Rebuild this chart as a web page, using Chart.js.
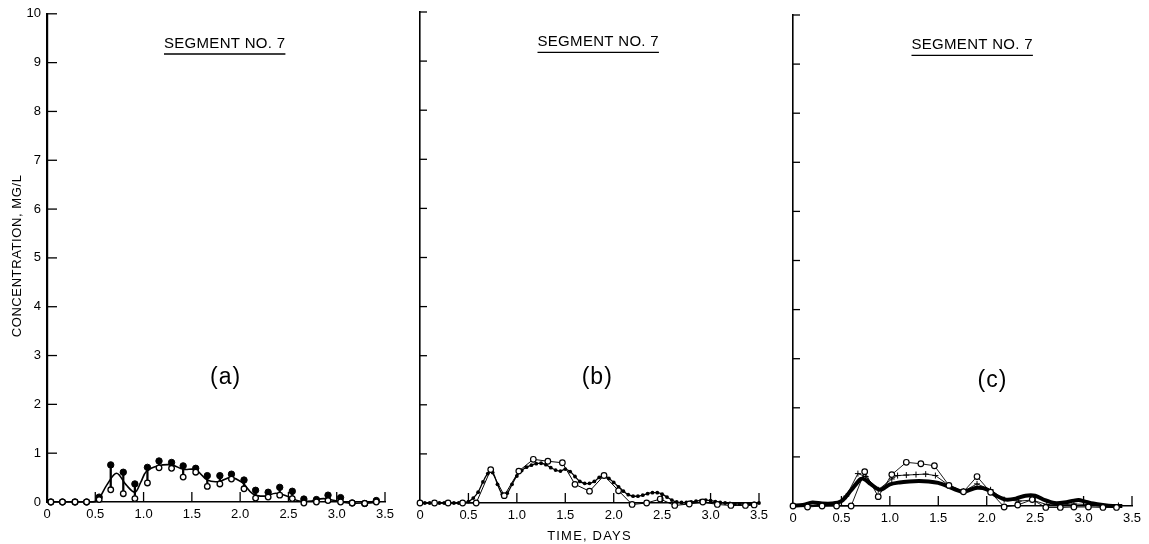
<!DOCTYPE html>
<html><head><meta charset="utf-8">
<script src="https://cdn.jsdelivr.net/npm/chart.js@4.4.0/dist/chart.umd.min.js"></script>
<style>
html,body{margin:0;padding:0;background:#fff;}
#wrap{position:relative;width:1149px;height:544px;overflow:hidden;background:#fff;}
.pc{position:absolute;top:0;height:544px;}
</style></head><body>
<div id="wrap">
<div class="pc" style="left:0;width:400px"><canvas id="ca"></canvas></div>
<div class="pc" style="left:400px;width:375px"><canvas id="cb"></canvas></div>
<div class="pc" style="left:775px;width:374px"><canvas id="cc"></canvas></div>
</div>
<script>
// ---------- data ----------
const xTickLabels = ['0','0.5','1.0','1.5','2.0','2.5','3.0','3.5'];
const yTickLabels = ['0','1','2','3','4','5','6','7','8','9','10'];

// panel (a): observed range (high / low) and model curve
const timesA = [0.04,0.16,0.29,0.41,0.54,0.66,0.79,0.91,1.04,1.16,1.29,1.41,1.54,1.66,1.79,1.91,2.04,2.16,2.29,2.41,2.54,2.66,2.79,2.91,3.04,3.16,3.29,3.41];
const highA  = [0,0,0,0,0.10,0.76,0.61,0.37,0.71,0.84,0.81,0.74,0.69,0.54,0.54,0.57,0.45,0.24,0.20,0.30,0.22,0.06,0.05,0.14,0.09,-0.02,-0.03,0.03];
const lowA   = [0,0,0,0,0.05,0.25,0.17,0.07,0.39,0.70,0.69,0.51,0.61,0.32,0.37,0.47,0.27,0.08,0.10,0.14,0.07,-0.02,0.00,0.03,0.00,-0.02,-0.03,0.00];
const modelTimesA = [0,0.45,0.52,0.62,0.72,0.82,0.91,0.97,1.03,1.15,1.29,1.41,1.54,1.66,1.78,1.9,2.02,2.13,2.25,2.37,2.49,2.61,2.74,2.86,2.98,3.12,3.3,3.45];
const modelA      = [0,0,0.02,0.35,0.59,0.35,0.2,0.4,0.63,0.74,0.76,0.67,0.66,0.45,0.42,0.5,0.4,0.17,0.12,0.18,0.12,0.02,0.02,0.07,0.03,-0.02,-0.02,0];

// panel (b)
const obsTimesB = [0,0.15,0.29,0.44,0.58,0.73,0.87,1.02,1.17,1.32,1.47,1.60,1.75,1.90,2.05,2.19,2.34,2.48,2.63,2.78,2.92,3.07,3.21,3.36,3.45];
const obsB      = [0,0,0,0,0,0.68,0.15,0.65,0.89,0.85,0.82,0.38,0.24,0.56,0.25,-0.03,0,0.08,-0.05,-0.02,0.02,-0.03,-0.05,-0.05,-0.04];
const modelTimesB = [0,0.05,0.1,0.15,0.2,0.25,0.3,0.35,0.4,0.45,
  0.5,0.55,0.6,0.65,0.7,0.75,0.8,0.85,0.9,0.95,
  1.0,1.05,1.1,1.15,1.2,1.25,1.3,1.35,1.4,1.45,
  1.5,1.55,1.6,1.65,1.7,1.75,1.8,1.85,1.9,1.95,
  2.0,2.05,2.1,2.15,2.2,2.25,2.3,2.35,2.4,2.45,
  2.5,2.55,2.6,2.65,2.7,2.75,2.8,2.85,2.9,2.95,
  3.0,3.05,3.1,3.15,3.2,3.25,3.3,3.35,3.4,3.45,3.5];
const modelB = [0,0,0,0,0,0,0,0,0,0.01,
  0.03,0.1,0.22,0.43,0.6,0.62,0.38,0.18,0.2,0.38,
  0.55,0.66,0.73,0.77,0.8,0.81,0.78,0.72,0.67,0.65,
  0.69,0.64,0.54,0.44,0.4,0.4,0.44,0.52,0.56,0.5,
  0.42,0.33,0.24,0.17,0.14,0.14,0.16,0.19,0.21,0.21,
  0.18,0.12,0.06,0.02,0.01,0.01,0.02,0.04,0.05,0.06,
  0.05,0.03,0.01,0,-0.01,-0.02,-0.02,-0.02,-0.02,-0.01,0];

// panel (c)
const obsTimesC = [0,0.15,0.3,0.45,0.6,0.74,0.88,1.02,1.17,1.32,1.46,1.61,1.76,1.9,2.04,2.18,2.32,2.47,2.61,2.76,2.9,3.05,3.2,3.34];
const obsC      = [0,-0.02,0,0,0,0.7,0.19,0.64,0.89,0.86,0.82,0.42,0.29,0.6,0.28,-0.02,0.02,0.13,-0.03,-0.03,-0.02,-0.02,-0.03,-0.03];
const plusTimesC = [0,0.15,0.3,0.45,0.55,0.67,0.75,0.88,1.02,1.08,1.17,1.27,1.37,1.47,1.61,1.76,1.9,2.04,2.18,2.33,2.47,2.62,2.76,2.9,3.05,3.2,3.36];
const plusC      = [0,0,0,0.02,0.2,0.66,0.6,0.33,0.55,0.62,0.63,0.64,0.65,0.62,0.42,0.3,0.45,0.33,0.13,0.1,0.12,0.03,0.02,0.04,0.03,0,0.01];
const modelTimesC = [0,0.1,0.2,0.3,0.4,0.5,0.6,0.7,0.75,0.8,0.9,1.0,1.1,1.2,1.3,1.4,1.5,1.6,1.7,1.76,1.8,1.9,2.0,2.1,2.2,2.3,2.4,2.5,2.6,2.7,2.8,2.9,2.95,3.0,3.1,3.2,3.3,3.4];
const modelC      = [0.01,0.02,0.07,0.05,0.05,0.1,0.32,0.55,0.53,0.45,0.33,0.44,0.48,0.5,0.51,0.5,0.47,0.4,0.32,0.29,0.31,0.37,0.34,0.21,0.13,0.15,0.21,0.21,0.12,0.06,0.07,0.11,0.12,0.1,0.05,0.02,0.0,0.0];

const panelTitle = 'SEGMENT NO. 7';
const panelTags = ['(a)','(b)','(c)'];
const yAxisTitle = 'CONCENTRATION, MG/L';
const xAxisTitle = 'TIME, DAYS';

// ---------- helpers ----------
const pts = (xs, ys) => xs.map((x, i) => ({x, y: ys[i]}));
const FONT = '"Liberation Sans", Arial, Helvetica, sans-serif';

const framePlugin = {
  id: 'frame',
  afterDatasetsDraw(chart, args, o) {
    const {ctx} = chart; const x = chart.scales.x, y = chart.scales.y;
    ctx.save();
    ctx.strokeStyle = '#000'; ctx.lineWidth = 1.3;
    x.ticks.forEach(t => {
      if (t.value === 0) return;
      const px = x.getPixelForValue(t.value);
      ctx.beginPath(); ctx.moveTo(px, y.bottom); ctx.lineTo(px, y.bottom - 10); ctx.stroke();
    });
    y.ticks.forEach(t => {
      if (t.value === 0) return;
      const py = y.getPixelForValue(t.value);
      ctx.beginPath(); ctx.moveTo(x.left, py); ctx.lineTo(x.left + o.yTick, py); ctx.stroke();
    });
    ctx.fillStyle = '#000';
    // panel title with underline
    ctx.font = '15px ' + FONT; ctx.letterSpacing = '0.3px';
    ctx.textAlign = 'center'; ctx.textBaseline = 'alphabetic';
    const tx = x.getPixelForValue(o.titleX), ty = y.getPixelForValue(o.titleY);
    ctx.fillText(panelTitle, tx, ty);
    const w = ctx.measureText(panelTitle).width;
    ctx.lineWidth = 1.4;
    ctx.beginPath(); ctx.moveTo(tx - w / 2, ty + 6); ctx.lineTo(tx + w / 2, ty + 6); ctx.stroke();
    // tag
    ctx.letterSpacing = '1px';
    ctx.font = '23px ' + FONT; ctx.textBaseline = 'middle';
    ctx.fillText(o.tag, x.getPixelForValue(o.tagX), y.getPixelForValue(o.tagY));
    // axis titles
    ctx.font = '13px ' + FONT; ctx.letterSpacing = '0.6px';
    if (o.yTitle) {
      ctx.save();
      ctx.translate(17, (y.top + y.bottom) / 2 - 2);
      ctx.rotate(-Math.PI / 2);
      ctx.fillText(yAxisTitle, 0, 0);
      ctx.restore();
    }
    if (o.xTitle) {
      ctx.font = '13px ' + FONT; ctx.letterSpacing = '1.2px';
      ctx.fillText(xAxisTitle, (x.left + x.right) / 2, y.bottom + 33);
    }
    ctx.restore();
  }
};

function makeChart(id, datasets, cfg) {
  return new Chart(document.getElementById(id), {
    type: 'line',
    data: {datasets},
    options: {
      responsive: true, maintainAspectRatio: false, animation: false,
      layout: {padding: {top: cfg.top, right: cfg.right, left: 0, bottom: 0}},
      plugins: {legend: {display: false}, tooltip: {enabled: false}, frame: cfg.frame},
      scales: {
        x: {
          type: 'linear', min: 0, max: 3.5, offset: false,
          grid: {display: true, drawOnChartArea: false, drawTicks: false, offset: false},
          border: {display: true, color: '#000', width: 1.5},
          ticks: {stepSize: 0.5, color: '#000', padding: 5, font: {size: 13, family: FONT},
                  maxRotation: 0, autoSkip: false,
                  callback: (v, i) => xTickLabels[i]},
          afterFit: s => { s.height = cfg.xh; }
        },
        y: {
          type: 'linear', min: 0, max: 10,
          grid: {display: true, drawOnChartArea: false, drawTicks: false},
          border: {display: true, color: '#000', width: cfg.yBorder},
          ticks: {stepSize: 1, color: '#000', padding: 6, display: cfg.yLabels,
                  font: {size: 13, family: FONT},
                  callback: (v, i) => yTickLabels[i]},
          afterFit: s => { s.width = cfg.yw; }
        }
      }
    },
    plugins: [framePlugin]
  });
}

// (a)
makeChart('ca', [
  {type: 'bar', data: timesA.map((t, i) => ({x: t, y: [lowA[i], highA[i]]})),
   backgroundColor: '#000', barThickness: 1.6, grouped: false, clip: false, order: 3},
  {data: pts(modelTimesA, modelA), borderColor: '#000', borderWidth: 1.6, pointRadius: 0,
   tension: 0.35, clip: false, order: 2},
  {data: pts(timesA, highA), showLine: false, pointRadius: 3.2, pointBackgroundColor: '#000',
   pointBorderColor: '#000', pointBorderWidth: 1, clip: false, order: 1},
  {data: pts(timesA, lowA), showLine: false, pointRadius: 2.8, pointBackgroundColor: '#fff',
   pointBorderColor: '#000', pointBorderWidth: 1.3, clip: false, order: 0}
], {top: 12, right: 15, xh: 42, yw: 47, yBorder: 2.2, yLabels: true,
    frame: {yTick: 10, titleX: 1.84, titleY: 9.3, tag: panelTags[0], tagX: 1.85, tagY: 2.55, yTitle: true, xTitle: false}});

// (b)
makeChart('cb', [
  {data: pts(modelTimesB, modelB), borderColor: '#000', borderWidth: 1.3, pointRadius: 1.9,
   pointBackgroundColor: '#000', pointBorderWidth: 0, tension: 0.3, clip: false, order: 1},
  {data: pts(obsTimesB, obsB), borderColor: '#000', borderWidth: 1, pointRadius: 2.8,
   pointBackgroundColor: '#fff', pointBorderColor: '#000', pointBorderWidth: 1.2, tension: 0, clip: false, order: 0}
], {top: 12, right: 16, xh: 41, yw: 20, yBorder: 1.6, yLabels: false,
    frame: {yTick: 7, titleX: 1.84, titleY: 9.3, tag: panelTags[1], tagX: 1.83, tagY: 2.55, yTitle: false, xTitle: true}});

// (c)
makeChart('cc', [
  {data: pts(modelTimesC, modelC), borderColor: '#000', borderWidth: 4, pointRadius: 0,
   tension: 0.3, clip: false, order: 2},
  {data: pts(plusTimesC, plusC), borderColor: '#000', borderWidth: 0.9, pointStyle: 'cross',
   pointRadius: 3, pointBorderColor: '#000', pointBorderWidth: 1, tension: 0, clip: false, order: 1},
  {data: pts(obsTimesC, obsC), borderColor: '#000', borderWidth: 0.9, pointRadius: 2.8,
   pointBackgroundColor: '#fff', pointBorderColor: '#000', pointBorderWidth: 1.2, tension: 0, clip: false, order: 0}
], {top: 15, right: 17, xh: 38, yw: 18, yBorder: 1.6, yLabels: false,
    frame: {yTick: 7, titleX: 1.85, titleY: 9.3, tag: panelTags[2], tagX: 2.06, tagY: 2.55, yTitle: false, xTitle: false}});
</script>
</body></html>
